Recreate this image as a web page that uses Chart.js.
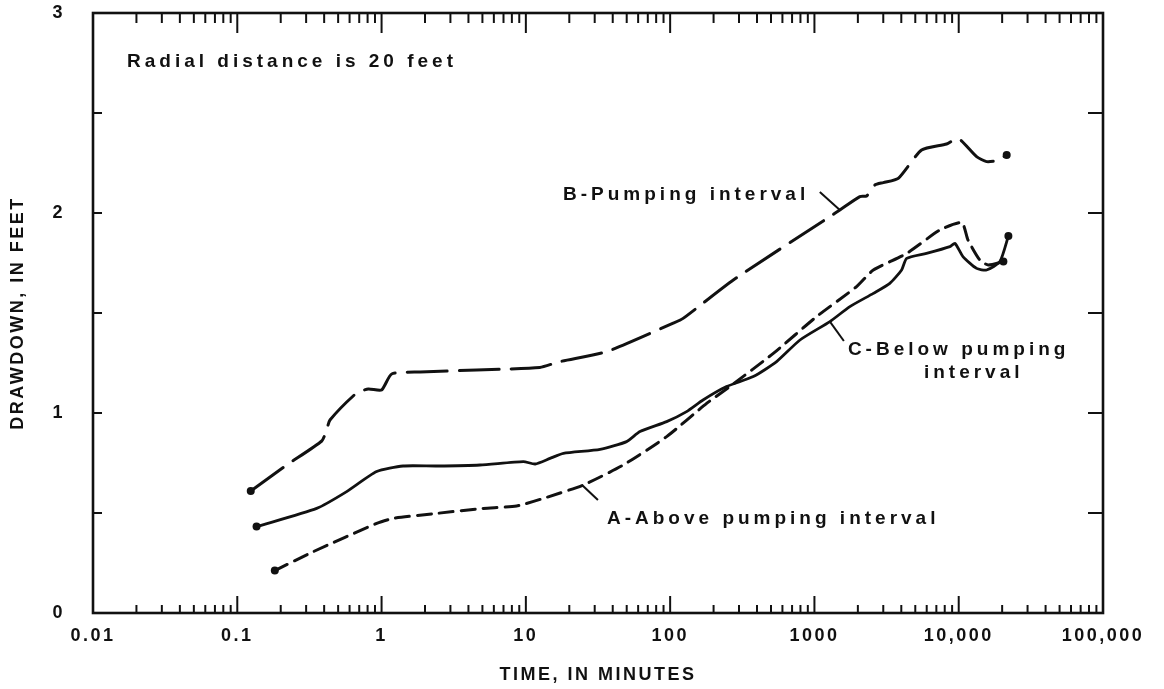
<!DOCTYPE html>
<html>
<head>
<meta charset="utf-8">
<title>Drawdown, radial distance 20 feet</title>
<script src="https://cdn.jsdelivr.net/npm/chart.js@4.4.1/dist/chart.umd.min.js"></script>
<style>
  html, body { margin: 0; padding: 0; background: #fff; }
  #wrap { width: 1164px; height: 689px; }
</style>
</head>
<body>
<div id="wrap"><canvas id="chart" width="1164" height="689"></canvas></div>
<script>
(function() {
    'use strict';

    // Time since pumping began, in minutes, and drawdown in feet

    // A - above pumping interval
    const timeA = [0.182, 0.337, 0.925, 1.2, 2.41, 5.07, 8.63, 13.9, 25, 47.3, 94.6, 179, 259, 519,
        1035, 1960, 2560, 4360, 7410, 10500, 11600, 14000, 16000, 20400];
    const drawA = [0.212, 0.307, 0.448, 0.473, 0.498, 0.523, 0.535, 0.578, 0.64, 0.74, 0.882, 1.048, 1.132, 1.298,
        1.482, 1.632, 1.715, 1.798, 1.915, 1.952, 1.865, 1.765, 1.74, 1.757];

    // B - pumping interval
    const timeB = [0.124, 0.22, 0.385, 0.416, 0.439, 0.671, 0.81, 1.0, 1.175, 1.85, 4.56, 12.5, 17.2, 36.3, 105,
        123, 274, 1280, 1500, 2065, 2300, 2625, 3000, 3810, 5530, 8240, 9930, 13300, 15600, 18300, 21500];
    const drawB = [0.61, 0.74, 0.86, 0.915, 0.965, 1.10, 1.12, 1.115, 1.195, 1.205, 1.215, 1.228, 1.257, 1.307, 1.449,
        1.473, 1.665, 1.982, 2.015, 2.082, 2.085, 2.14, 2.152, 2.173, 2.315, 2.345, 2.373, 2.282, 2.257, 2.262, 2.29];

    // C - below pumping interval
    const timeC = [0.136, 0.355, 0.573, 0.925, 1.41, 2.41, 4.81, 9.6, 11.6, 14.7, 18.2, 32.7, 49.9, 61.8, 94.6,
        130, 169, 246, 377, 547, 794, 1280, 1760, 2560, 3330, 4020, 4360, 5980, 8690, 9420, 10700, 13300,
        15600, 19300, 22100];
    const drawC = [0.432, 0.523, 0.607, 0.707, 0.735, 0.735, 0.74, 0.757, 0.745, 0.773, 0.798, 0.818, 0.857, 0.907,
        0.957, 1.007, 1.065, 1.132, 1.182, 1.257, 1.365, 1.457, 1.532, 1.598, 1.648, 1.715, 1.773, 1.798,
        1.832, 1.848, 1.782, 1.723, 1.715, 1.757, 1.885];

    const xTickValues = [0.01, 0.1, 1, 10, 100, 1000, 10000, 100000];
    const xTickLabels = ['0.01', '0.1', '1', '10', '100', '1000', '10,000', '100,000'];
    const yTickValues = [0, 1, 2, 3];
    const yTickLabels = ['0', '1', '2', '3'];

    const INK = '#111';
    const FAMILY = '"Liberation Sans", Arial, sans-serif';

    function toPoints(times, values) {
        return times.map((t, i) => ({ x: t, y: values[i] }));
    }

    // dots only on the first and last reading of each curve
    function endDots(ctx) {
        const n = ctx.dataset.data.length;
        return (ctx.dataIndex === 0 || ctx.dataIndex === n - 1) ? 4 : 0;
    }

    function curve(label, times, values, dash, width) {
        return {
            label: label,
            data: toPoints(times, values),
            borderColor: INK,
            backgroundColor: INK,
            borderWidth: width,
            borderDash: dash,
            borderCapStyle: 'round',
            borderJoinStyle: 'round',
            tension: 0.2,
            fill: false,
            pointRadius: endDots,
            pointBorderWidth: 0,
            pointHoverRadius: 0
        };
    }

    // curve labels and their leader lines, anchored in data units
    const notes = [
        { text: 'Radial distance is 20 feet', x: 0.0172, y: 2.755 },
        { text: 'B-Pumping interval', x: 18.1, y: 2.09 },
        { text: 'C-Below pumping', x: 1706, y: 1.315 },
        { text: 'interval', x: 5740, y: 1.20 },
        { text: 'A-Above pumping interval', x: 36.5, y: 0.47 }
    ];
    const leaders = [
        [[1090, 2.105], [1500, 2.015]],
        [[1280, 1.457], [1600, 1.36]],
        [[24.5, 0.64], [31.6, 0.565]]
    ];

    // tracked lettering for the whole figure
    const lettering = {
        id: 'lettering',
        beforeUpdate(chart) { chart.ctx.letterSpacing = '2.5px'; },
        beforeDraw(chart) { chart.ctx.letterSpacing = '2.5px'; }
    };

    // closed frame with inward tick marks on all four sides, plus the curve notes
    const frame = {
        id: 'frame',
        afterDatasetsDraw(chart) {
            const ctx = chart.ctx;
            const a = chart.chartArea;
            const xs = chart.scales.x;
            const ys = chart.scales.y;

            ctx.save();
            ctx.strokeStyle = INK;
            ctx.lineCap = 'butt';

            function seg(x1, y1, x2, y2) {
                ctx.beginPath();
                ctx.moveTo(x1, y1);
                ctx.lineTo(x2, y2);
                ctx.stroke();
            }

            ctx.lineWidth = 2;
            for (let e = -2; e < 5; e++) {
                for (let k = 2; k <= 10; k++) {
                    const px = xs.getPixelForValue(k * Math.pow(10, e));
                    const top = k === 10 ? 20 : 10;
                    const bottom = k === 10 ? 17 : 8;
                    seg(px, a.top, px, a.top + top);
                    seg(px, a.bottom, px, a.bottom - bottom);
                }
            }
            for (let v = 0.5; v < 3; v += 0.5) {
                const py = ys.getPixelForValue(v);
                seg(a.left, py, a.left + 9, py);
                seg(a.right, py, a.right - 15, py);
            }

            ctx.lineWidth = 2.6;
            ctx.strokeRect(a.left, a.top, a.right - a.left, a.bottom - a.top);

            ctx.lineWidth = 2;
            leaders.forEach(l => {
                seg(xs.getPixelForValue(l[0][0]), ys.getPixelForValue(l[0][1]),
                    xs.getPixelForValue(l[1][0]), ys.getPixelForValue(l[1][1]));
            });

            ctx.fillStyle = INK;
            ctx.font = 'bold 19px ' + FAMILY;
            ctx.letterSpacing = '4px';
            ctx.textAlign = 'left';
            ctx.textBaseline = 'middle';
            notes.forEach(n => {
                ctx.fillText(n.text, xs.getPixelForValue(n.x), ys.getPixelForValue(n.y));
            });
            ctx.restore();
        }
    };

    document.addEventListener('DOMContentLoaded', function() {
        const canvas = document.getElementById('chart');

        new Chart(canvas, {
            type: 'line',
            data: {
                datasets: [
                    curve('A-Above pumping interval', timeA, drawA, [14, 8], 3),
                    curve('B-Pumping interval', timeB, drawB, [40, 12], 3),
                    curve('C-Below pumping interval', timeC, drawC, [], 2.8)
                ]
            },
            options: {
                responsive: false,
                devicePixelRatio: 1,
                animation: false,
                layout: { padding: { top: 13, right: 61, left: 0, bottom: 0 } },
                plugins: {
                    legend: { display: false },
                    tooltip: { enabled: false }
                },
                scales: {
                    x: {
                        type: 'logarithmic',
                        min: 0.01,
                        max: 100000,
                        grid: { display: false },
                        border: { display: false },
                        afterBuildTicks: scale => {
                            scale.ticks = xTickValues.map(v => ({ value: v }));
                        },
                        afterFit: scale => {
                            scale.height = 76;
                            scale.paddingLeft = 0;
                            scale.paddingRight = 0;
                        },
                        ticks: {
                            autoSkip: false,
                            maxRotation: 0,
                            padding: 4,
                            color: INK,
                            font: { family: FAMILY, size: 18, weight: 'bold' },
                            callback: (value) => {
                                const i = xTickValues.indexOf(value);
                                return i >= 0 ? xTickLabels[i] : '';
                            }
                        },
                        title: {
                            display: true,
                            text: 'TIME, IN MINUTES',
                            color: INK,
                            font: { family: FAMILY, size: 18, weight: 'bold' },
                            padding: { top: 0, bottom: 3 }
                        }
                    },
                    y: {
                        min: 0,
                        max: 3,
                        grid: { display: false },
                        border: { display: false },
                        afterBuildTicks: scale => {
                            scale.ticks = yTickValues.map(v => ({ value: v }));
                        },
                        afterFit: scale => {
                            scale.width = 93;
                            scale.paddingTop = 0;
                            scale.paddingBottom = 0;
                        },
                        ticks: {
                            padding: 20,
                            color: INK,
                            font: { family: FAMILY, size: 18, weight: 'bold' },
                            callback: (value) => {
                                const i = yTickValues.indexOf(value);
                                return i >= 0 ? yTickLabels[i] : '';
                            }
                        },
                        title: {
                            display: true,
                            text: 'DRAWDOWN, IN FEET',
                            color: INK,
                            font: { family: FAMILY, size: 18, weight: 'bold' },
                            padding: { top: 7, bottom: 0 }
                        }
                    }
                }
            },
            plugins: [lettering, frame]
        });
    });
})();
</script>
</body>
</html>
